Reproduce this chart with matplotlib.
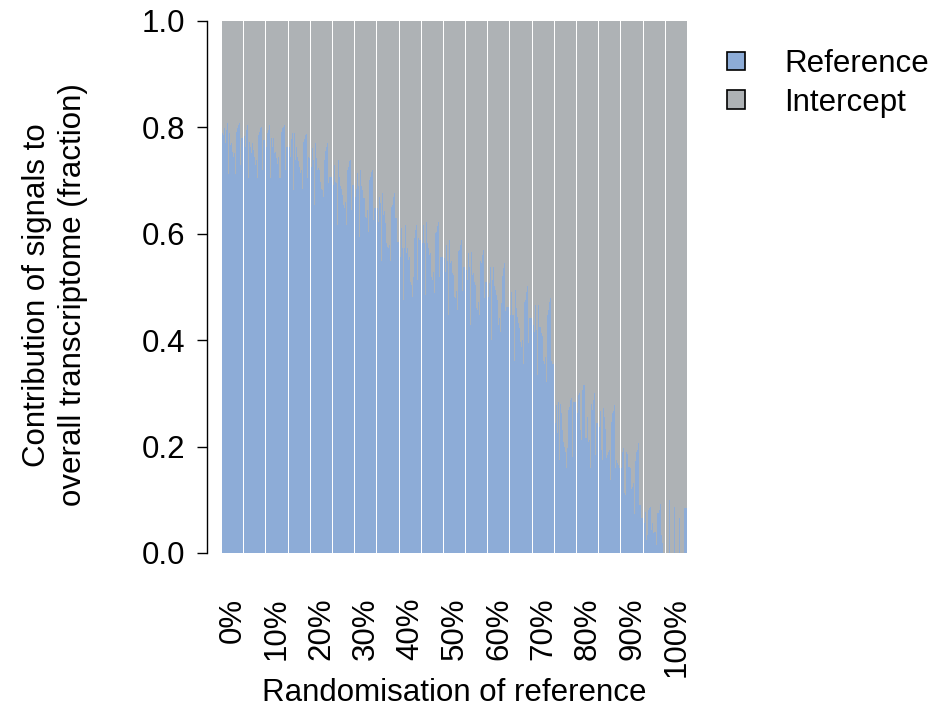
import matplotlib
matplotlib.use('Agg')
import matplotlib.pyplot as plt
from matplotlib.patches import Patch
import numpy as np

# randomisation levels (one group of bars per level)
randomisation = ['0%', '5%', '10%', '15%', '20%', '25%', '30%', '35%', '40%',
                 '45%', '50%', '55%', '60%', '65%', '70%', '75%', '80%',
                 '85%', '90%', '95%', '100%']

# fraction explained by the reference signal, one value per sample
ref_00 = [0.789, 0.786, 0.798, 0.770, 0.795, 0.808, 0.713, 0.789, 0.767, 0.770, 0.754,
          0.745, 0.751, 0.713, 0.792, 0.798, 0.805, 0.808, 0.729, 0.780, 0.780]
ref_05 = [0.783, 0.764, 0.795, 0.805, 0.704, 0.773, 0.764, 0.751, 0.770, 0.758, 0.745,
          0.729, 0.739, 0.704, 0.786, 0.792, 0.798, 0.801, 0.720, 0.776, 0.776]
ref_10 = [0.764, 0.789, 0.795, 0.805, 0.704, 0.780, 0.764, 0.780, 0.751, 0.754, 0.742,
          0.732, 0.745, 0.704, 0.792, 0.798, 0.801, 0.805, 0.720, 0.764, 0.764]
ref_15 = [0.764, 0.745, 0.779, 0.789, 0.682, 0.789, 0.739, 0.764, 0.745, 0.736, 0.726,
          0.714, 0.720, 0.685, 0.773, 0.779, 0.786, 0.788, 0.704, 0.745, 0.742]
ref_20 = [0.726, 0.761, 0.739, 0.654, 0.770, 0.742, 0.720, 0.723, 0.720, 0.698, 0.685,
          0.682, 0.670, 0.739, 0.755, 0.764, 0.770, 0.695, 0.707, 0.707, 0.707]
ref_25 = [0.692, 0.730, 0.698, 0.695, 0.617, 0.739, 0.707, 0.689, 0.685, 0.673, 0.654,
          0.648, 0.660, 0.617, 0.720, 0.726, 0.736, 0.739, 0.645, 0.692, 0.692]
ref_30 = [0.670, 0.685, 0.714, 0.689, 0.594, 0.720, 0.689, 0.682, 0.667, 0.667, 0.632,
          0.629, 0.645, 0.604, 0.701, 0.707, 0.717, 0.720, 0.626, 0.648, 0.648]
ref_35 = [0.648, 0.623, 0.670, 0.657, 0.548, 0.677, 0.635, 0.642, 0.620, 0.582, 0.576,
          0.573, 0.579, 0.548, 0.651, 0.654, 0.670, 0.676, 0.629, 0.585, 0.585]
ref_40 = [0.557, 0.610, 0.573, 0.476, 0.573, 0.617, 0.563, 0.573, 0.551, 0.557, 0.510,
          0.504, 0.482, 0.519, 0.592, 0.607, 0.617, 0.513, 0.592, 0.588, 0.588]
ref_45 = [0.582, 0.617, 0.582, 0.485, 0.623, 0.582, 0.573, 0.560, 0.563, 0.519, 0.513,
          0.529, 0.488, 0.601, 0.604, 0.614, 0.623, 0.519, 0.557, 0.557, 0.557]
ref_50 = [0.554, 0.529, 0.579, 0.548, 0.448, 0.588, 0.545, 0.548, 0.526, 0.523, 0.482,
          0.479, 0.492, 0.457, 0.567, 0.570, 0.579, 0.588, 0.492, 0.538, 0.538]
ref_55 = [0.532, 0.513, 0.563, 0.538, 0.429, 0.566, 0.523, 0.526, 0.510, 0.504, 0.460,
          0.457, 0.472, 0.447, 0.548, 0.545, 0.560, 0.570, 0.479, 0.510, 0.510]
ref_60 = [0.482, 0.507, 0.538, 0.400, 0.513, 0.538, 0.501, 0.495, 0.485, 0.476, 0.429,
          0.441, 0.416, 0.469, 0.520, 0.535, 0.545, 0.454, 0.463, 0.463, 0.463]
ref_65 = [0.447, 0.491, 0.447, 0.360, 0.495, 0.460, 0.444, 0.432, 0.422, 0.397, 0.388,
          0.400, 0.356, 0.472, 0.476, 0.491, 0.501, 0.394, 0.441, 0.441, 0.441]
ref_70 = [0.429, 0.416, 0.466, 0.419, 0.335, 0.466, 0.425, 0.425, 0.413, 0.407, 0.360,
          0.356, 0.369, 0.322, 0.447, 0.457, 0.472, 0.479, 0.360, 0.356, 0.356]
ref_75 = [0.244, 0.278, 0.225, 0.284, 0.175, 0.281, 0.263, 0.231, 0.209, 0.200, 0.190,
          0.159, 0.197, 0.269, 0.275, 0.288, 0.291, 0.181, 0.284, 0.284, 0.284]
ref_80 = [0.263, 0.297, 0.300, 0.231, 0.213, 0.306, 0.316, 0.316, 0.216, 0.216, 0.256,
          0.209, 0.213, 0.159, 0.281, 0.269, 0.288, 0.300, 0.184, 0.244, 0.244]
ref_85 = [0.237, 0.266, 0.194, 0.175, 0.272, 0.256, 0.234, 0.178, 0.184, 0.190, 0.194,
          0.137, 0.247, 0.263, 0.266, 0.278, 0.159, 0.175, 0.169, 0.165, 0.159]
ref_90 = [0.159, 0.190, 0.197, 0.112, 0.109, 0.190, 0.187, 0.162, 0.159, 0.121, 0.125,
          0.131, 0.074, 0.172, 0.190, 0.194, 0.206, 0.090, 0.090, 0.065, 0.065]
ref_95 = [0.056, 0.078, 0.024, 0.034, 0.081, 0.084, 0.087, 0.043, 0.056, 0.037, 0.040,
          0.040, 0.015, 0.075, 0.075, 0.081, 0.093, 0.034, 0.018, 0.0, 0.0]
ref_100 = [0.0, 0.0, 0.0, 0.100, 0.0, 0.0, 0.0, 0.0, 0.087, 0.0, 0.0,
           0.0, 0.0, 0.065, 0.0, 0.0, 0.0, 0.0, 0.084, 0.084, 0.084]

groups = [ref_00, ref_05, ref_10, ref_15, ref_20, ref_25, ref_30, ref_35, ref_40,
          ref_45, ref_50, ref_55, ref_60, ref_65, ref_70, ref_75, ref_80, ref_85,
          ref_90, ref_95, ref_100]

BLUE = '#8dacd7'
GREY = '#aeb2b5'
FS = 22.5


def plot():
    plt.rcParams['font.family'] = ['Liberation Sans', 'DejaVu Sans']
    fig = plt.figure(figsize=(9.47, 7.10), dpi=100)
    ax = fig.add_axes([222 / 947, 157 / 710, 465 / 947, 532 / 710])

    x, ref, centres = [], [], []
    pos = 0
    for vals in groups:
        x.extend(pos + np.arange(len(vals)))
        ref.extend(vals)
        centres.append(pos + len(vals) / 2)
        pos += len(vals) + 1  # one empty slot between groups
    x = np.array(x, dtype=float)
    ref = np.array(ref)

    ax.bar(x, ref, width=1.0, align='edge', color=BLUE, linewidth=0,
           antialiased=False)
    ax.bar(x, 1 - ref, bottom=ref, width=1.0, align='edge', color=GREY,
           linewidth=0, antialiased=False)

    ax.set_xlim(0, x[-1] + 1)
    ax.set_ylim(0, 1)

    for s in ['top', 'right', 'bottom']:
        ax.spines[s].set_visible(False)
    ax.spines['left'].set_position(('outward', 11))
    ax.spines['left'].set_bounds(0, 1)
    ax.spines['left'].set_linewidth(1.0)

    ax.set_yticks([0, 0.2, 0.4, 0.6, 0.8, 1.0])
    ax.set_yticklabels(['0.0', '0.2', '0.4', '0.6', '0.8', '1.0'])
    ax.tick_params(axis='y', length=7.5, width=1.0, labelsize=FS, pad=8)

    ax.set_xticks(centres[::2])
    ax.set_xticklabels(randomisation[::2], rotation=90, va='top')
    ax.tick_params(axis='x', length=0, labelsize=FS, pad=32)

    fig.text(55 / 947, 1 - 295 / 710,
             'Contribution of signals to\noverall transcriptome (fraction)',
             rotation=90, ha='center', va='center', fontsize=FS, linespacing=1.25)
    fig.text(454 / 947, 1 - 693 / 710, 'Randomisation of reference',
             ha='center', va='center', fontsize=FS)

    handles = [Patch(facecolor=BLUE, edgecolor='black', linewidth=1.2, label='Reference'),
               Patch(facecolor=GREY, edgecolor='black', linewidth=1.2, label='Intercept')]
    fig.legend(handles=handles, loc='upper left', bbox_to_anchor=(727 / 947, 1 - 49 / 710),
               frameon=False, fontsize=FS, handlelength=0.57, handleheight=0.55,
               handletextpad=1.25, labelspacing=0.28, borderpad=0, borderaxespad=0)

    fig.savefig('out.png', dpi=100)


if __name__ == '__main__':
    plot()
